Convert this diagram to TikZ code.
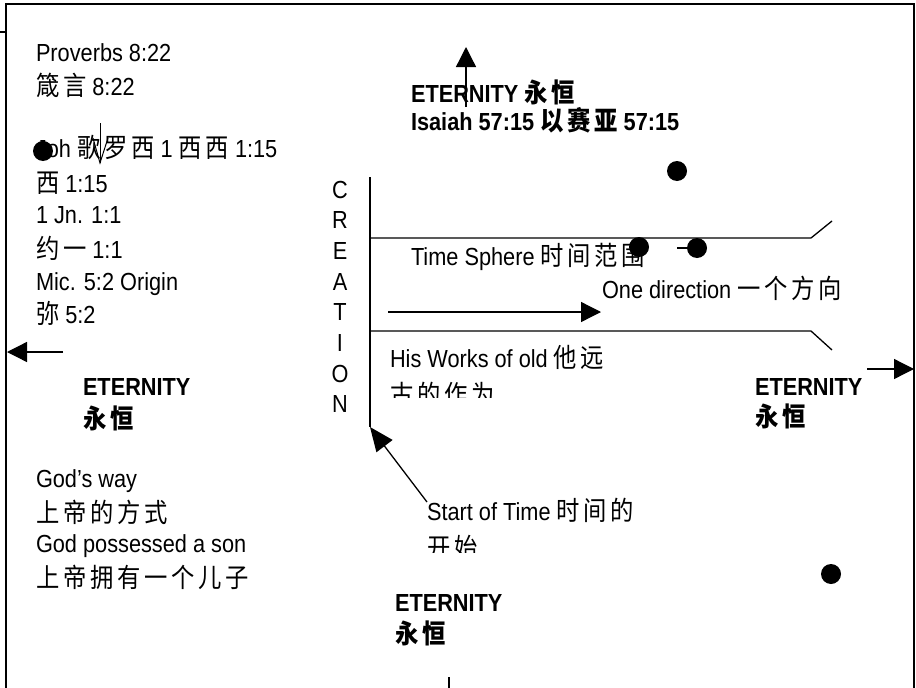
\documentclass[tikz,border=0pt]{standalone}
\usepackage{fontspec}
\setmainfont{Liberation Sans}[FakeStretch=0.88]
\newfontfamily\cjk{Noto Sans CJK SC}[FakeStretch=0.88,LetterSpace=14]
\usetikzlibrary{arrows.meta}
\newcommand\C[1]{{\cjk\fontsize{26.5}{33}\selectfont #1}}
\tikzset{
  txt/.style={anchor=base west, inner sep=0pt, outer sep=0pt, font=\fontsize{24.7}{33}\selectfont},
  txtb/.style={txt, font=\fontsize{24.7}{33}\selectfont\bfseries},
  letter/.style={anchor=base, inner sep=0pt, font=\fontsize{24.7}{33}\selectfont},
  bdot/.style={circle, fill=black, minimum size=20pt, inner sep=0pt},
  arr/.style={-{Triangle[length=20pt,width=20pt]}, line width=1.3pt},
  ln/.style={line width=1.3pt},
  frame/.style={line width=1.6pt}
}
\begin{document}
\begin{tikzpicture}[x=1pt,y=-1pt]
\useasboundingbox (0,0) rectangle (916,688);
% frame
\draw[frame] (6,688) -- (6,4) -- (914,4) -- (914,688);
\draw[line width=2pt] (0,32) -- (6,32);

% left column
\node[txt] (pv) at (36,61) {Proverbs 8:22};
\node[txt] (pvc) at (36,95) {\C{箴言} 8:22};
\node[txt] (joh) at (36,157) {Joh \C{歌罗西} 1 \C{西西} 1:15};
\node[txt] (x1) at (36,192) {\C{西} 1:15};
\node[txt] (jn) at (36,223) {1 Jn. 1:1};
\node[txt] (jnc) at (36,258) {\C{约一} 1:1};
\node[txt] (mic) at (36,290) {Mic. 5:2 Origin};
\node[txt] (micc) at (36,323) {\C{弥} 5:2};
\node[bdot] (d0) at (43,151) {};
\coordinate (da1) at (100,123);
\coordinate (da2) at (100,163);
\coordinate (dl) at (93,138);
\coordinate (dr) at (108,138);
\draw[line width=1pt] (da1) -- (da2);
\draw[line width=1pt] (dl) -- (da2) -- (dr);

% left arrow
\coordinate (la1) at (63,352);
\coordinate (la2) at (7,352);
\draw[arr] (la1) -- (la2);

\node[txtb] (etl) at (83,395) {ETERNITY};
\node[txtb] (etlc) at (83,428) {\C{永恒}};
\node[txt] (gw) at (36,487) {God’s way};
\node[txt] (gwc) at (36,522) {\C{上帝的方式}};
\node[txt] (gp) at (36,552) {God possessed a son};
\node[txt] (gpc) at (36,587) {\C{上帝拥有一个儿子}};

% top
\node[txtb] (ett) at (411,102) {ETERNITY \C{永恒}};
\node[txtb] (isa) at (411,130) {Isaiah 57:15 \C{以赛亚} 57:15};
\coordinate (ta1) at (466,107);
\coordinate (ta2) at (466,47);
\draw[arr] (ta1) -- (ta2);
\node[bdot] (d1) at (677,171) {};

% CREATION
\foreach \l [count=\i from 0] in {C,R,E,A,T,I,O,N}{
  \node[letter] (cr\i) at (340,198+30.7*\i) {\l};
}
\coordinate (v1) at (370,177);
\coordinate (v2) at (370,427);
\draw[ln] (v1) -- (v2);
\coordinate (u1) at (370,238);
\coordinate (u2) at (811,238);
\coordinate (u3) at (832,221);
\draw[ln] (u1) -- (u2) -- (u3);
\coordinate (w1) at (370,331);
\coordinate (w2) at (811,331);
\coordinate (w3) at (832,350);
\draw[ln] (w1) -- (w2) -- (w3);

\node[txt] (ts) at (411,265) {Time Sphere \C{时间范围}};
\node[bdot] (d2) at (639,247) {};
\node[bdot] (d3) at (697,248) {};
\coordinate (s1) at (677,248);
\draw[ln] (s1) -- (d3);
\node[txt] (od) at (602,298) {One direction \C{一个方向}};
\coordinate (oa1) at (388,312);
\coordinate (oa2) at (601,312);
\draw[arr] (oa1) -- (oa2);

\begin{scope}
\clip (380,330) rectangle (640,397);
\node[txt] (hw) at (390,367) {His Works of old \C{他远}};
\node[txt] (hwc) at (390,404) {\C{古的作为}};
\end{scope}

\node[txtb] (etr) at (755,395) {ETERNITY};
\node[txtb] (etrc) at (755,426) {\C{永恒}};
\coordinate (ra1) at (867,369);
\coordinate (ra2) at (914,369);
\draw[arr] (ra1) -- (ra2);

% start of time
\coordinate (sa1) at (427,502);
\draw[line width=1.3pt, -{Triangle[length=24pt,width=20pt]}] (sa1) -- (v2);
\begin{scope}
\clip (415,495) rectangle (700,552);
\node[txt] (st) at (427,520) {Start of Time \C{时间的}};
\node[txt] (stc) at (427,557) {\C{开始}};
\end{scope}

\node[bdot] (d4) at (831,574) {};
\node[txtb] (etb) at (395,611) {ETERNITY};
\node[txtb] (etbc) at (395,643) {\C{永恒}};
\coordinate (b1) at (449,677);
\coordinate (b2) at (449,688);
\draw[ln] (b1) -- (b2);
\end{tikzpicture}
\end{document}
